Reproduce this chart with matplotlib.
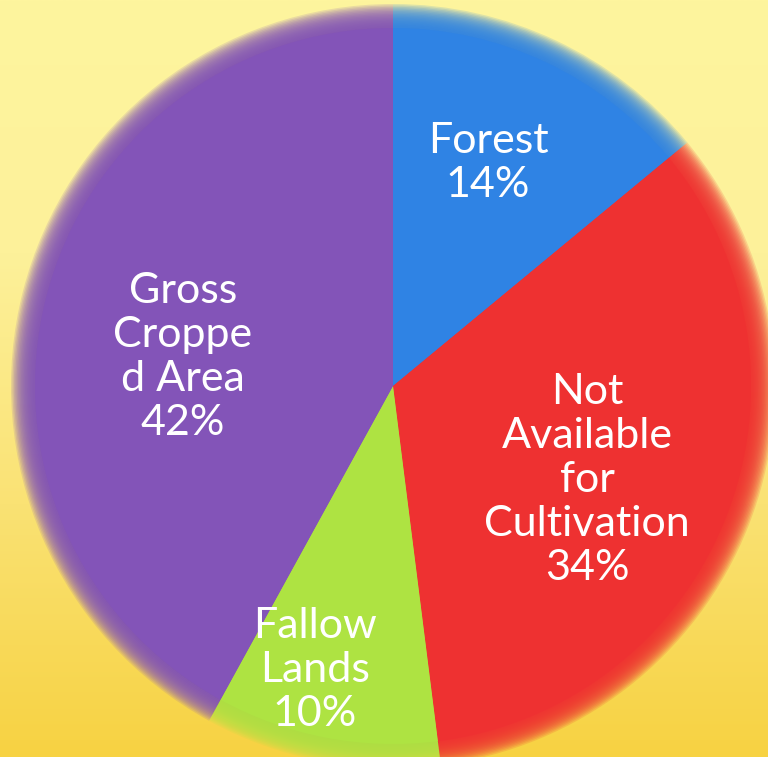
import numpy as np
import matplotlib.pyplot as plt
from matplotlib.colors import LinearSegmentedColormap

labels = ["Forest", "Not\nAvailable\nfor\nCultivation", "Fallow\nLands", "Gross\nCroppe\nd Area"]
shares = [14, 34, 10, 42]
colors = ["#2F83E4", "#EE3131", "#AEE342", "#8354B8"]
label_pos = [(488, 594), (587, 277), (315, 87), (183, 400)]

W, H = 768, 757
CX, CY, R = 393, 371, 376

fig = plt.figure(figsize=(W / 100, H / 100), dpi=100)
ax = fig.add_axes([0, 0, 1, 1])
ax.set_xlim(0, W)
ax.set_ylim(0, H)
ax.axis("off")

# yellow background, paler at the top
bg = LinearSegmentedColormap.from_list("bg", ["#F7D242", "#FAE274", "#FDF19A", "#FEF59E"])
grad = np.linspace(0, 1, 256).reshape(-1, 1)
ax.imshow(grad, cmap=bg, extent=[0, W, 0, H], origin="lower", aspect="auto", zorder=0)

# soft edge: stack faint pies of shrinking radius, then the solid one
for r in np.linspace(R + 6, R - 18, 18):
    ax.pie(shares, colors=colors, startangle=90, counterclock=False,
           radius=r, center=(CX, CY), frame=True,
           wedgeprops=dict(linewidth=0, alpha=0.16))
ax.pie(shares, colors=colors, startangle=90, counterclock=False,
       radius=R - 18, center=(CX, CY), frame=True,
       wedgeprops=dict(linewidth=0))

ax.set_xlim(0, W)
ax.set_ylim(0, H)
ax.set_aspect("auto")
ax.axis("off")

for lab, s, (x, y) in zip(labels, shares, label_pos):
    ax.text(x, y, f"{lab}\n{s}%", ha="center", va="center", color="white",
            fontsize=31, family="Lato", linespacing=1.2, zorder=5)

fig.savefig("out.png", dpi=100)
